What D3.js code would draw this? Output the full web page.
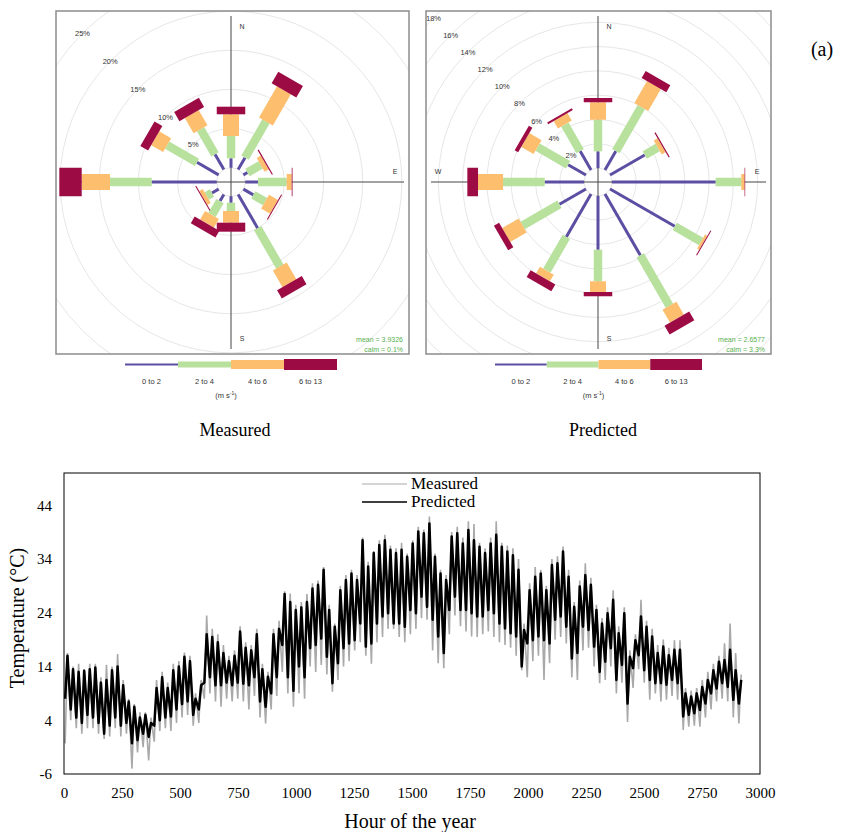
<!DOCTYPE html>
<html>
<head>
<meta charset="utf-8">
<script src="https://cdn.jsdelivr.net/npm/d3@7"></script>
<style>
body{margin:0;background:#fff;}
svg{display:block;}
</style>
</head>
<body>
<svg id="fig" width="842" height="832"></svg>
<script>
// ---- wind rose data: % of hours per speed class, sectors clockwise from N
var ROSE_DIRS = [0, 30, 60, 90, 120, 150, 180, 210, 240, 270, 300, 330];
var SPEED_CLASSES = ['0 to 2', '2 to 4', '4 to 6', '6 to 13'];
var SPEED_COLORS = ['#5b4ea3', '#b7e19d', '#fdbe6e', '#9d0b45'];

var measuredRose = [
    [1.2, 2.85, 2.77, 0.97],
    [1.75, 5.35, 4.6, 1.7],
    [0.6, 1.95, 0.6, 0.15],
    [1.62, 3.67, 0.64, 0.1],
    [1.47, 1.73, 1.32, 0.13],
    [4.98, 5.66, 2.46, 1.2],
    [0.82, 1.06, 1.49, 1.15],
    [0.98, 2.05, 1.27, 0.99],
    [0.98, 0.77, 0.51, 0.13],
    [8.3, 5.33, 3.61, 2.86],
    [3.2, 4.39, 1.76, 1.15],
    [2.26, 3.7, 2.24, 1.34]
];
var predictedRose = [
    [1.38, 2.6, 1.44, 0.35],
    [1.8, 4.18, 2.09, 0.66],
    [3.3, 1.23, 0.37, 0.1],
    [8.54, 2.11, 0.28, 0.04],
    [6.15, 2.5, 0.21, 0.08],
    [5.82, 4.8, 1.22, 0.84],
    [4.43, 2.6, 0.88, 0.35],
    [4.08, 3.2, 0.63, 0.66],
    [2.52, 3.5, 1.56, 0.49],
    [3.24, 3.43, 2.06, 0.88],
    [1.7, 2.9, 1.17, 0.33],
    [1.8, 2.51, 0.72, 0.16]
];
var measuredStats = ['mean = 3.9326', 'calm = 0.1%'];
var predictedStats = ['mean = 2.6577', 'calm = 3.3%'];

// ---- temperature: daily min / max (deg C) read per day, day 0 = hours 0-23
var predMax = [16,13.5,13,13.2,13.5,13.8,11,11.5,13.3,14,
    10.5,7.5,6.5,4.5,5,3.5,10,12,10,13.3,
    14,15.8,15,8,10.5,20,19.5,18.5,16.5,15,
    16,20.5,17.5,17,20,13.5,12.1,20,21,27.5,
    26,24.5,25,26,28.5,29.2,32,24.5,21.4,28.2,
    30.1,31.3,30.1,37.5,32.6,35.1,36.6,37.5,35.7,35.1,
    35.7,34.4,36.9,39.1,38.8,40.6,34.4,31.3,30.1,38.2,
    38.8,36.9,39.4,37.5,36.3,35.1,36.9,38.5,36.3,35.4,
    34.7,32,20.8,28.2,30.7,31.3,28.2,32.9,33.2,35.4,
    30.7,25.1,28.9,31,29.2,24.5,22,23.9,26.4,20.2,
    23.9,15.8,18.9,23.3,21.4,19.6,16.5,17.7,16.1,17.1,
    17.1,9,8.4,9,10.2,11.5,13.3,14.9,15.2,17.1,
    13.3,11.5];
var predMin = [8,6,4.5,3.5,5,4.5,3.5,1.5,3,4.5,
    3,3.5,-0.3,0.3,1.5,0.9,3,4,4.5,4.7,
    6,7,7.5,5,6,11,12,10.5,10.5,11,
    10.5,11,10.8,10.5,12,7.5,6.5,9,12,18,
    12,9.5,14,12,17.4,18,19.2,15.8,10.9,14.6,
    17.4,18.3,18.9,22,17.7,18.3,22,23.3,23.9,22,
    22,21.4,24.5,23.9,27,25.1,22.7,19.6,16.5,24.5,
    27,24.5,24.5,23.9,23.3,23.3,24.5,23.9,22,21.1,
    20.2,19.6,14,18.3,18.9,19.6,18.9,18.3,22.7,23.3,
    21.4,15.5,16.5,21.4,20.8,17.7,13,14.9,17.4,11.5,
    14.3,7.1,13.7,16.1,13.3,11.5,10.9,10.9,10.6,11.5,
    10.9,4.7,5,5.3,5.9,7.1,9,9.9,10.9,10.2,
    7.8,7.1];
var measMax = [16.5,14,14.5,13.5,14.5,14.5,12,14.3,14,16.3,
    11.5,8,7,5.5,5.5,4.5,11.5,13,11,14.5,
    15,16.6,16,9,11.5,23.5,21,20,18,16,
    17,21.5,18.5,18,21,14.5,13,21,22.5,28,
    27.6,25.5,26,27.5,29.5,30,32.5,25.5,22,29,
    31,32,31,38,33.5,35.5,37.5,38.5,36.5,36,
    37,35,37.5,40,39.5,41.9,35,32,31,39,
    40,38,41,40.5,37,36,38,41,37,36.5,
    36,34,22,29.5,32.5,32,29,34,34.5,36.3,
    32,26,30,33.2,30.5,25.5,23,25,28.2,21.5,
    25,17,20,26.4,22.5,21,18,19,17.5,18.9,
    18.9,10,9.5,10,11.5,13,14.5,16,18.3,22,
    16.5,12.5];
var measMin = [-0.3,4,2.5,1.5,2.5,2.5,1.5,0.5,1,2.5,
    1,1.5,-5,-2,-1,-3.5,0,2,2.5,2,
    3.5,4.5,5,3,3.5,8,9,7.5,6.5,8,
    7.5,8,7.5,6,8.5,4.5,3.4,6,8.5,13,
    9,6.5,9,8,14,13,14.3,12.5,9.3,11.5,
    14,15,17,18.5,16,14.5,18.5,19.5,21,21,
    19.5,18.5,20,21,23,22.7,17,14.6,13.7,20,
    23.5,21.5,20.5,19.6,19.5,20,20.5,19.5,18.5,18,
    17.5,16,13.3,12,15,16,11.5,14.6,19,19.5,
    18.3,12,11.5,17,17.5,14,10.9,11.5,14,9,
    11,3.7,10,13.5,11,7.8,9,7.5,7.8,8.5,
    7.8,2.2,2.8,3,2.8,4.5,6,7.5,8,7.5,
    4.5,3.4];
var HOUR_OF_MIN = 5, HOUR_OF_MAX = 15;
var xTicks = d3.range(0, 3001, 250);
var yTicks = [-6, 4, 14, 24, 34, 44];

var svg = d3.select('#fig');
var SANS = 'Liberation Sans, Arial, sans-serif';
var SERIF = 'Liberation Serif, Times New Roman, serif';

function drawRose(o) {
    var g = svg.append('g');
    var clipId = 'clip-' + o.id;
    g.append('clipPath').attr('id', clipId).append('rect')
        .attr('x', o.box[0]).attr('y', o.box[1])
        .attr('width', o.box[2]).attr('height', o.box[3]);
    var r = d3.scaleLinear().domain([0, o.max]).range([o.offset, o.offset + o.max * o.pxPer]);
    var inner = g.append('g').attr('clip-path', 'url(#' + clipId + ')')
        .append('g').attr('transform', 'translate(' + o.cx + ',' + o.cy + ')');

    // grid circles
    inner.selectAll('circle.grid').data(d3.range(o.step, o.max + o.step * 3, o.step))
        .enter().append('circle').attr('class', 'grid')
        .attr('r', function(d) { return r(d); })
        .attr('fill', 'none').attr('stroke', '#e0e0e0').attr('stroke-width', 0.8);
    inner.append('circle').attr('r', o.offset)
        .attr('fill', '#fff').attr('stroke', '#e0e0e0').attr('stroke-width', 0.8);

    // cross axes
    var left = o.box[0] - o.cx + 5, right = o.box[0] + o.box[2] - o.cx - 5,
        top = o.box[1] - o.cy + 5, bottom = o.box[1] + o.box[3] - o.cy - 5;
    inner.append('line').attr('x1', 0).attr('x2', 0).attr('y1', top).attr('y2', bottom)
        .attr('stroke', '#444').attr('stroke-width', 1);
    inner.append('line').attr('x1', left).attr('x2', right).attr('y1', 0).attr('y2', 0)
        .attr('stroke', '#444').attr('stroke-width', 1);
    var compass = [['N', 11, top + 13], ['E', right - 9, -8], ['S', 11, bottom - 8], ['W', left + 7, -8]];
    inner.selectAll('text.cmp').data(compass).enter().append('text')
        .attr('x', function(d) { return d[1]; }).attr('y', function(d) { return d[2]; })
        .attr('text-anchor', 'middle').attr('font-family', SANS).attr('font-size', 7)
        .attr('fill', '#333').text(function(d) { return d[0]; });

    // percent labels along the NW diagonal
    inner.selectAll('text.pct').data(d3.range(o.step, o.max + 0.001, o.step)).enter().append('text')
        .attr('x', function(d) { return -r(d) * Math.SQRT1_2; })
        .attr('y', function(d) { return -r(d) * Math.SQRT1_2 + 3; })
        .attr('text-anchor', 'middle').attr('font-family', SANS).attr('font-size', 7.5)
        .attr('fill', '#333').text(function(d) { return d + '%'; });

    // paddles
    var widths = [3, 8.5, 16, 28.5];
    o.data.forEach(function(vals, i) {
        var spoke = inner.append('g').attr('transform', 'rotate(' + ROSE_DIRS[i] + ')');
        var cum = 0;
        vals.forEach(function(v, k) {
            var r0 = r(cum), r1 = r(cum + v);
            cum += v;
            spoke.append('rect')
                .attr('x', -widths[k] / 2).attr('width', widths[k])
                .attr('y', -r1).attr('height', Math.max(r1 - r0, 0.6))
                .attr('fill', SPEED_COLORS[k]);
        });
    });

    // mean / calm
    g.selectAll('text.stat').data(o.stats).enter().append('text')
        .attr('x', o.box[0] + o.box[2] - 6)
        .attr('y', function(d, i) { return o.box[1] + o.box[3] - 12 + i * 10; })
        .attr('text-anchor', 'end').attr('font-family', SANS).attr('font-size', 7)
        .attr('fill', '#57b04e').text(function(d) { return d; });

    // frame
    g.append('rect').attr('x', o.box[0]).attr('y', o.box[1])
        .attr('width', o.box[2]).attr('height', o.box[3])
        .attr('fill', 'none').attr('stroke', '#8c8c8c').attr('stroke-width', 1.5);

    // key
    var key = svg.append('g');
    var kx = d3.scaleBand().domain(SPEED_CLASSES).range([o.keyX0, o.keyX1]);
    var thick = [2, 6, 9, 11];
    key.selectAll('rect').data(SPEED_CLASSES).enter().append('rect')
        .attr('x', function(d) { return kx(d); }).attr('width', kx.bandwidth())
        .attr('y', function(d, i) { return o.keyY - thick[i] / 2; })
        .attr('height', function(d, i) { return thick[i]; })
        .attr('fill', function(d, i) { return SPEED_COLORS[i]; });
    key.selectAll('text.lab').data(SPEED_CLASSES).enter().append('text')
        .attr('x', function(d) { return kx(d) + kx.bandwidth() / 2; })
        .attr('y', o.keyY + 19).attr('text-anchor', 'middle')
        .attr('font-family', SANS).attr('font-size', 7.5).attr('fill', '#333')
        .text(function(d) { return d; });
    var unit = key.append('text').attr('x', (o.keyX0 + o.keyX1) / 2 - 5).attr('y', o.keyY + 33)
        .attr('text-anchor', 'middle').attr('font-family', SANS).attr('font-size', 7.5).attr('fill', '#333');
    unit.append('tspan').text('(m s');
    unit.append('tspan').attr('baseline-shift', 'super').attr('font-size', 5).text('-1');
    unit.append('tspan').text(')');
}

drawRose({id: 'meas', box: [56, 11, 353, 343], cx: 231, cy: 182, offset: 14.3, pxPer: 7.83,
    max: 25, step: 5, data: measuredRose, stats: measuredStats, keyX0: 125, keyX1: 337, keyY: 364.5});
drawRose({id: 'pred', box: [426, 11, 345, 343], cx: 598, cy: 182, offset: 13.9, pxPer: 12.15,
    max: 18, step: 2, data: predictedRose, stats: predictedStats, keyX0: 495, keyX1: 702, keyY: 364.5});

svg.append('text').attr('x', 235).attr('y', 436).attr('text-anchor', 'middle')
    .attr('font-family', SERIF).attr('font-size', 18).text('Measured');
svg.append('text').attr('x', 603).attr('y', 436).attr('text-anchor', 'middle')
    .attr('font-family', SERIF).attr('font-size', 18).text('Predicted');
svg.append('text').attr('x', 822).attr('y', 56).attr('text-anchor', 'middle')
    .attr('font-family', SERIF).attr('font-size', 20).text('(a)');

// ---- temperature series
var plot = {left: 64, right: 760, top: 473, bottom: 774};
var x = d3.scaleLinear().domain([0, 3000]).range([plot.left, plot.right]);
var y = d3.scaleLinear().domain([-6, 50]).range([plot.bottom, plot.top]);

function dailyPoints(mins, maxs) {
    var pts = [];
    mins.forEach(function(v, d) {
        pts.push([d * 24 + HOUR_OF_MIN, v]);
        pts.push([d * 24 + HOUR_OF_MAX, maxs[d]]);
    });
    return pts;
}
var line = d3.line().x(function(d) { return x(d[0]); }).y(function(d) { return y(d[1]); });

var ts = svg.append('g');
ts.append('path').datum(dailyPoints(measMin, measMax)).attr('d', line)
    .attr('fill', 'none').attr('stroke', '#a9a9a9').attr('stroke-width', 1.6);
ts.append('path').datum(dailyPoints(predMin, predMax)).attr('d', line)
    .attr('fill', 'none').attr('stroke', '#000').attr('stroke-width', 2.5)
    .attr('stroke-linejoin', 'round');

ts.append('rect').attr('x', plot.left).attr('y', plot.top)
    .attr('width', plot.right - plot.left).attr('height', plot.bottom - plot.top)
    .attr('fill', 'none').attr('stroke', '#000').attr('stroke-width', 1);

var xAxis = ts.append('g').attr('transform', 'translate(0,' + plot.bottom + ')')
    .call(d3.axisBottom(x).tickValues(xTicks).tickSize(0).tickPadding(13).tickFormat(String));
var yAxis = ts.append('g').attr('transform', 'translate(' + plot.left + ',0)')
    .call(d3.axisLeft(y).tickValues(yTicks).tickSize(0).tickPadding(12).tickFormat(String));
[xAxis, yAxis].forEach(function(a) {
    a.select('.domain').remove();
    a.selectAll('text').attr('font-family', SERIF).attr('font-size', 15).attr('fill', '#000');
});

ts.append('text').attr('x', 410).attr('y', 828).attr('text-anchor', 'middle')
    .attr('font-family', SERIF).attr('font-size', 20).text('Hour of the year');
ts.append('text').attr('transform', 'translate(24,618) rotate(-90)').attr('text-anchor', 'middle')
    .attr('font-family', SERIF).attr('font-size', 20).text('Temperature (\u00b0C)');

// legend
var legend = ts.append('g');
[['Measured', '#a9a9a9', 1.1, 484], ['Predicted', '#000', 1.7, 502]].forEach(function(d) {
    legend.append('line').attr('x1', 362).attr('x2', 407).attr('y1', d[3]).attr('y2', d[3])
        .attr('stroke', d[1]).attr('stroke-width', d[2]);
    legend.append('text').attr('x', 411).attr('y', d[3] + 5).attr('font-family', SERIF)
        .attr('font-size', 17).text(d[0]);
});
</script>
</body>
</html>
